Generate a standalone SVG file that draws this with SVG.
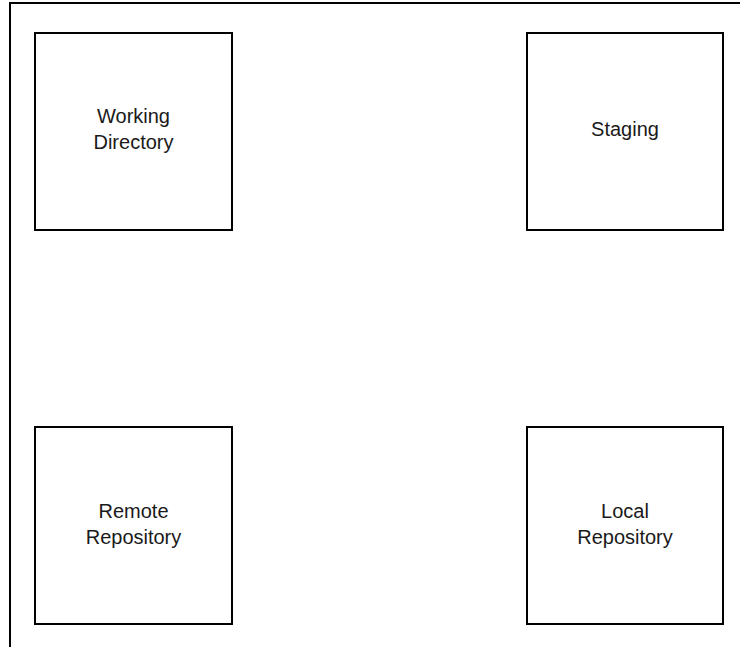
<svg xmlns="http://www.w3.org/2000/svg" width="740" height="647" viewBox="0 0 740 647">
  <style>
    .box { fill: #ffffff; stroke: #000000; stroke-width: 2; }
    .frame { fill: none; stroke: #000000; stroke-width: 2; }
    .label { font-family: "Liberation Sans", Arial, sans-serif; font-size: 20px; fill: #1a1a1a; text-anchor: middle; }
  </style>
  <rect width="740" height="647" fill="#ffffff"/>
  <!-- outer frame: top and left edges -->
  <path class="frame" d="M10,647 V3 H740"/>
  <g id="working-directory">
    <rect class="box" x="35" y="33" width="197" height="197"/>
    <text class="label" x="133.5" y="123">Working</text>
    <text class="label" x="133.5" y="149">Directory</text>
  </g>
  <g id="staging">
    <rect class="box" x="527" y="33" width="196" height="197"/>
    <text class="label" x="625" y="136">Staging</text>
  </g>
  <g id="remote-repository">
    <rect class="box" x="35" y="427" width="197" height="197"/>
    <text class="label" x="133.5" y="518">Remote</text>
    <text class="label" x="133.5" y="544">Repository</text>
  </g>
  <g id="local-repository">
    <rect class="box" x="527" y="427" width="196" height="197"/>
    <text class="label" x="625" y="518">Local</text>
    <text class="label" x="625" y="544">Repository</text>
  </g>
  <g id="connectors"/>
</svg>
